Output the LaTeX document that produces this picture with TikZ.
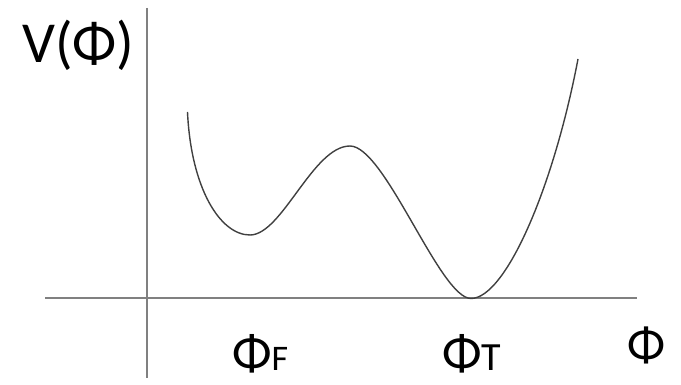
\documentclass[tikz,border=0pt]{standalone}
\usepackage{fontspec}
\setmainfont{Carlito}
\begin{document}
\begin{tikzpicture}[x=1pt,y=-1pt,
  axis/.style={draw=black!50,line width=2pt},
  curve/.style={draw=black!75,line width=1.4pt},
  lbl/.style={inner sep=0pt,anchor=base west}]
\useasboundingbox (0,0) rectangle (681,385);
\coordinate (vt) at (147,8);
\coordinate (vb) at (147,378);
\coordinate (hl) at (45,298.5);
\coordinate (hr) at (637,298.5);
\coordinate (c0) at (187.5,112);
\coordinate (c1) at (250,235);
\coordinate (c2) at (350,146);
\coordinate (c3) at (471,298.5);
\coordinate (c4) at (578,59);
\draw[axis] (vt) -- (vb);
\draw[axis] (hl) -- (hr);
\draw[curve] (c0) .. controls (191,188) and (220,235) .. (c1)
  .. controls (282,235) and (313,146) .. (c2)
  .. controls (385,146) and (440,298.5) .. (c3)
  .. controls (505,298.5) and (553,190) .. (c4);
\node[lbl] (v) at (22,63) {\fontsize{58}{60}\selectfont V(Φ)};
\node[lbl] (pf) at (232,370) {\fontsize{52}{54}\selectfont Φ\fontsize{36}{38}\selectfont F};
\node[lbl] (pt) at (442,370) {\fontsize{52}{54}\selectfont Φ\fontsize{40}{42}\selectfont T};
\node[lbl] (p) at (627,361) {\fontsize{50}{52}\selectfont Φ};
\end{tikzpicture}
\end{document}
